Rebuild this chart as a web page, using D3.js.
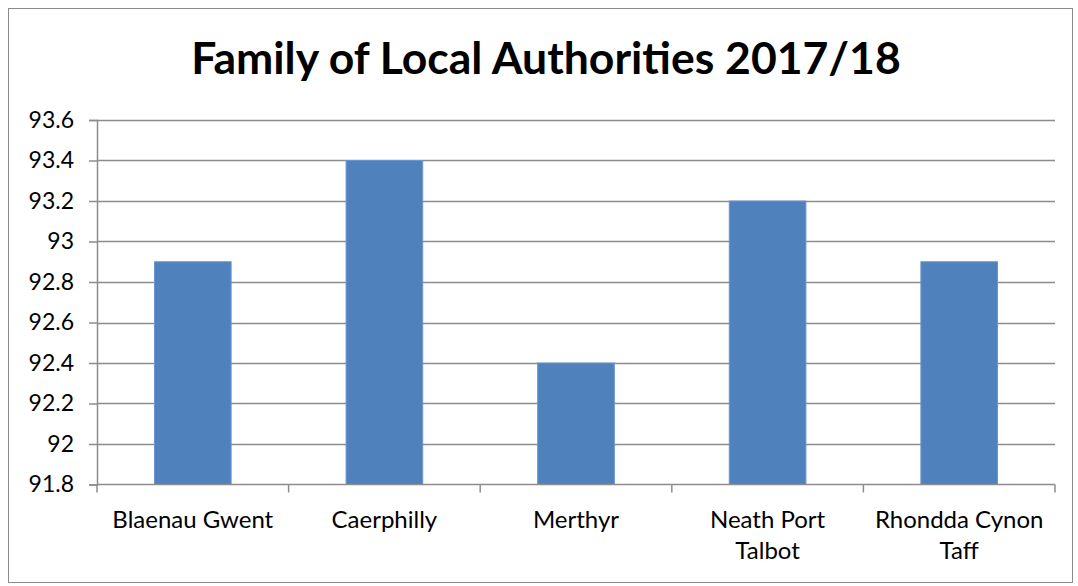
<!DOCTYPE html>
<html lang="en">
<head>
<meta charset="UTF-8">
<title>Family of Local Authorities 2017/18</title>
<script src="https://d3js.org/d3.v7.min.js"></script>
<style>
  body { margin: 0; background: #fff; }
  text { font-family: Lato, "Open Sans", sans-serif; fill: #000; }
</style>
</head>
<body>
<div id="chart"></div>
<script>
// data
var authorities = ["Blaenau Gwent", "Caerphilly", "Merthyr", "Neath Port Talbot", "Rhondda Cynon Taff"];
var labelLines = [["Blaenau Gwent"], ["Caerphilly"], ["Merthyr"], ["Neath Port", "Talbot"], ["Rhondda Cynon", "Taff"]];
var scores = [92.9, 93.4, 92.4, 93.2, 92.9];
var yTicks = [91.8, 92, 92.2, 92.4, 92.6, 92.8, 93, 93.2, 93.4, 93.6];

var W = 1078, H = 586;
var plot = {left: 97, right: 1055, top: 120, bottom: 484.5};

var svg = d3.select("#chart").append("svg")
    .attr("width", W).attr("height", H);

// outer frame
svg.append("rect")
    .attr("x", 8.5).attr("y", 8.5)
    .attr("width", 1064).attr("height", 574)
    .attr("fill", "#fff").attr("stroke", "#8c8c8c").attr("stroke-width", 1);

svg.append("text")
    .attr("x", 546).attr("y", 74)
    .attr("text-anchor", "middle")
    .style("font-size", "44.5px").style("font-weight", "bold")
    .text("Family of Local Authorities 2017/18");

var x = d3.scaleBand()
    .domain(authorities)
    .range([plot.left, plot.right])
    .paddingInner(0.6).paddingOuter(0.3);

var y = d3.scaleLinear()
    .domain([91.8, 93.6])
    .range([plot.bottom, plot.top]);

// gridlines
svg.append("g").selectAll("line")
    .data(yTicks.slice(1))
    .enter().append("line")
    .attr("x1", plot.left).attr("x2", plot.right)
    .attr("y1", function(d){ return Math.round(y(d)) + 0.5; })
    .attr("y2", function(d){ return Math.round(y(d)) + 0.5; })
    .attr("stroke", "#8c8c8c").attr("stroke-width", 1.5);

// bars
svg.append("g").selectAll("rect")
    .data(scores)
    .enter().append("rect")
    .attr("x", function(d, i){ return x(authorities[i]); })
    .attr("y", function(d){ return y(d); })
    .attr("width", x.bandwidth())
    .attr("height", function(d){ return plot.bottom - y(d); })
    .attr("fill", "#4f81bd")
    .attr("stroke", "#6b96cc").attr("stroke-width", 1);

// y axis
var yAxis = d3.axisLeft(y).tickValues(yTicks).tickSize(8).tickPadding(15)
    .tickFormat(function(d){ return d3.format("")(+d.toFixed(1)); });
var gy = svg.append("g")
    .attr("transform", "translate(" + plot.left + ",0)")
    .call(yAxis);
gy.select(".domain").attr("stroke", "#8c8c8c").attr("stroke-width", 1.5);
gy.selectAll(".tick line").attr("stroke", "#8c8c8c").attr("stroke-width", 1.5);
gy.selectAll(".tick text").style("font-size", "23px").attr("fill", "#000")
    .style("font-family", "Lato, sans-serif");

// x axis baseline with category boundary ticks
var boundaries = d3.range(authorities.length + 1).map(function(i){
    return plot.left + i * x.step();
});
svg.append("line")
    .attr("x1", plot.left).attr("x2", plot.right)
    .attr("y1", plot.bottom).attr("y2", plot.bottom)
    .attr("stroke", "#8c8c8c").attr("stroke-width", 1.5);
svg.append("g").selectAll("line")
    .data(boundaries)
    .enter().append("line")
    .attr("x1", function(d){ return d; }).attr("x2", function(d){ return d; })
    .attr("y1", plot.bottom).attr("y2", plot.bottom + 8)
    .attr("stroke", "#8c8c8c").attr("stroke-width", 1.5);

// category labels
var labels = svg.append("g").selectAll("text")
    .data(authorities)
    .enter().append("text")
    .attr("x", function(d){ return x(d) + x.bandwidth() / 2; })
    .attr("y", 528)
    .attr("text-anchor", "middle")
    .style("font-size", "24px");
labels.each(function(d, i){
    var t = d3.select(this);
    labelLines[i].forEach(function(line, j){
        t.append("tspan")
            .attr("x", x(d) + x.bandwidth() / 2)
            .attr("dy", j === 0 ? 0 : 31)
            .text(line);
    });
});
</script>
</body>
</html>
